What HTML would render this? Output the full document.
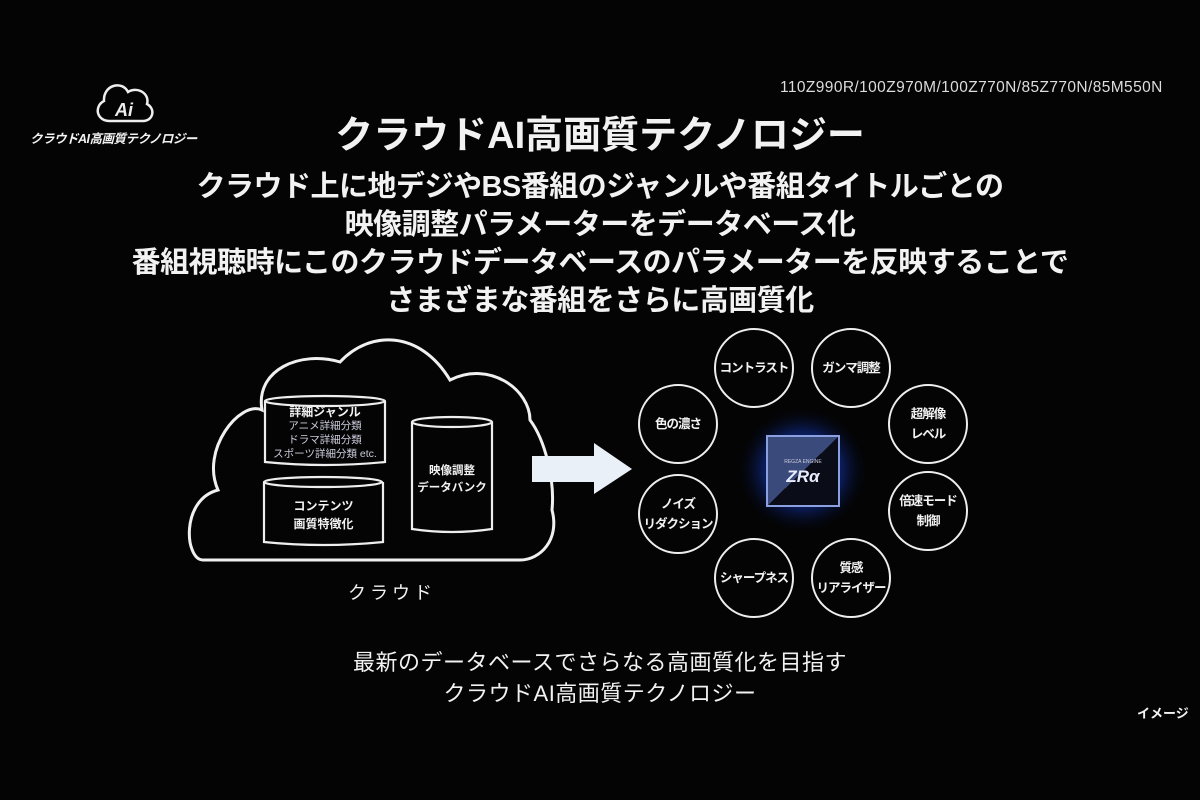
<!DOCTYPE html>
<html><head><meta charset="utf-8"><style>
body{margin:0;width:1200px;height:800px;background:#040404;overflow:hidden;position:relative;font-family:"Liberation Sans","Noto Sans CJK JP",sans-serif;color:#f2f2f2}
.t{position:absolute;white-space:nowrap}
.c{position:absolute;width:76px;height:76px;border:2.5px solid #eee;border-radius:50%;display:flex;align-items:center;justify-content:center;text-align:center;font-size:12.5px;font-weight:bold;line-height:20px;letter-spacing:-1px}
</style></head><body>
<div class="t" style="left:780px;top:79px;font-size:15.5px;letter-spacing:0.4px;color:#ddd">110Z990R/100Z970M/100Z770N/85Z770N/85M550N</div>
<svg style="position:absolute;left:0;top:0" width="1200" height="800">
 <path d="M110 121 C96 121 94 106 104 101 C103 85 122 80 128 92 C138 86 150 94 147 104 C156 109 153 121 143 121 Z" fill="none" stroke="#eee" stroke-width="2.5"/>
 <text x="124" y="116" font-size="18" font-style="italic" font-weight="bold" fill="#eee" text-anchor="middle" font-family="Liberation Sans">Ai</text>
 <path d="M203 560 C185 560 180 500 218 490 C200 450 240 400 262 410 C255 370 300 350 340 362 C370 330 420 330 450 380 C490 360 530 390 530 420 C545 440 555 480 552 510 C560 540 540 560 520 560 Z" fill="none" stroke="#f0f0f0" stroke-width="3"/>
 <g fill="none" stroke="#eee" stroke-width="2.2">
  <path d="M265 401 L265 462 Q325 468 385 462 L385 401"/><ellipse cx="325" cy="401" rx="60" ry="5"/>
  <path d="M264 482 L264 542 Q323 548 383 542 L383 482"/><ellipse cx="323" cy="482" rx="59" ry="5"/>
  <path d="M412 422 L412 529 Q452 535 492 529 L492 422"/><ellipse cx="452" cy="422" rx="40" ry="5"/>
 </g>
 <polygon points="532,456 594,456 594,443 632,469 594,494 594,482 532,482" fill="#eaf0f8"/>
 <defs><radialGradient id="g"><stop offset="0" stop-color="#2a50ff" stop-opacity=".9"/><stop offset=".6" stop-color="#1030a0" stop-opacity=".5"/><stop offset="1" stop-color="#000" stop-opacity="0"/></radialGradient>
 <linearGradient id="ch" x1="0" y1="0" x2="1" y2="1"><stop offset=".5" stop-color="#3a4a7a"/><stop offset=".5" stop-color="#0a0c18"/></linearGradient></defs>
 <rect x="735" y="405" width="135" height="130" fill="url(#g)"/>
 <rect x="767" y="436" width="72" height="70" fill="url(#ch)" stroke="#8aa0e0" stroke-width="2"/>
 <text x="803" y="463" font-size="5" fill="#ccd" text-anchor="middle">REGZA ENGINE</text>
 <text x="803" y="482" font-size="17" font-style="italic" font-weight="bold" fill="#e8ecff" text-anchor="middle">ZRα</text>
</svg>
<div class="t" style="left:30px;top:128px;font-size:12.5px;font-weight:bold;font-style:italic;letter-spacing:-0.5px">クラウドAI高画質テクノロジー</div>
<div class="t" style="left:0;width:1200px;text-align:center;top:104px;font-size:38px;font-weight:bold;letter-spacing:0px">クラウドAI高画質テクノロジー</div>
<div class="t" style="left:0;width:1200px;text-align:center;top:168px;font-size:29px;font-weight:bold;line-height:38px;letter-spacing:-0.5px">クラウド上に地デジやBS番組のジャンルや番組タイトルごとの<br>映像調整パラメーターをデータベース化<br>番組視聴時にこのクラウドデータベースのパラメーターを反映することで<br>さまざまな番組をさらに高画質化</div>
<div class="t" style="left:265px;width:120px;text-align:center;top:406px;font-size:12px;font-weight:bold;line-height:13px">詳細ジャンル<br><span style="font-weight:normal;font-size:10.5px;color:#ccd">アニメ詳細分類<br>ドラマ詳細分類<br>スポーツ詳細分類 etc.</span></div>
<div class="t" style="left:264px;width:119px;text-align:center;top:497px;font-size:12px;font-weight:bold;line-height:18px">コンテンツ<br>画質特徴化</div>
<div class="t" style="left:412px;width:80px;text-align:center;top:463px;font-size:11.5px;font-weight:bold;line-height:17px">映像調整<br>データバンク</div>
<div class="t" style="left:348px;top:579px;font-size:18px;letter-spacing:4px">クラウド</div>
<div class="c" style="left:714px;top:328px">コントラスト</div>
<div class="c" style="left:811px;top:328px">ガンマ調整</div>
<div class="c" style="left:888px;top:384px">超解像<br>レベル</div>
<div class="c" style="left:888px;top:471px">倍速モード<br>制御</div>
<div class="c" style="left:811px;top:538px">質感<br>リアライザー</div>
<div class="c" style="left:714px;top:538px">シャープネス</div>
<div class="c" style="left:638px;top:474px">ノイズ<br>リダクション</div>
<div class="c" style="left:638px;top:384px">色の濃さ</div>
<div class="t" style="left:0;width:1200px;text-align:center;top:647px;font-size:22px;line-height:31px;letter-spacing:0.5px">最新のデータベースでさらなる高画質化を目指す<br>クラウドAI高画質テクノロジー</div>
<div class="t" style="left:1137px;top:703px;font-size:13px;font-weight:bold">イメージ</div>
</body></html>
